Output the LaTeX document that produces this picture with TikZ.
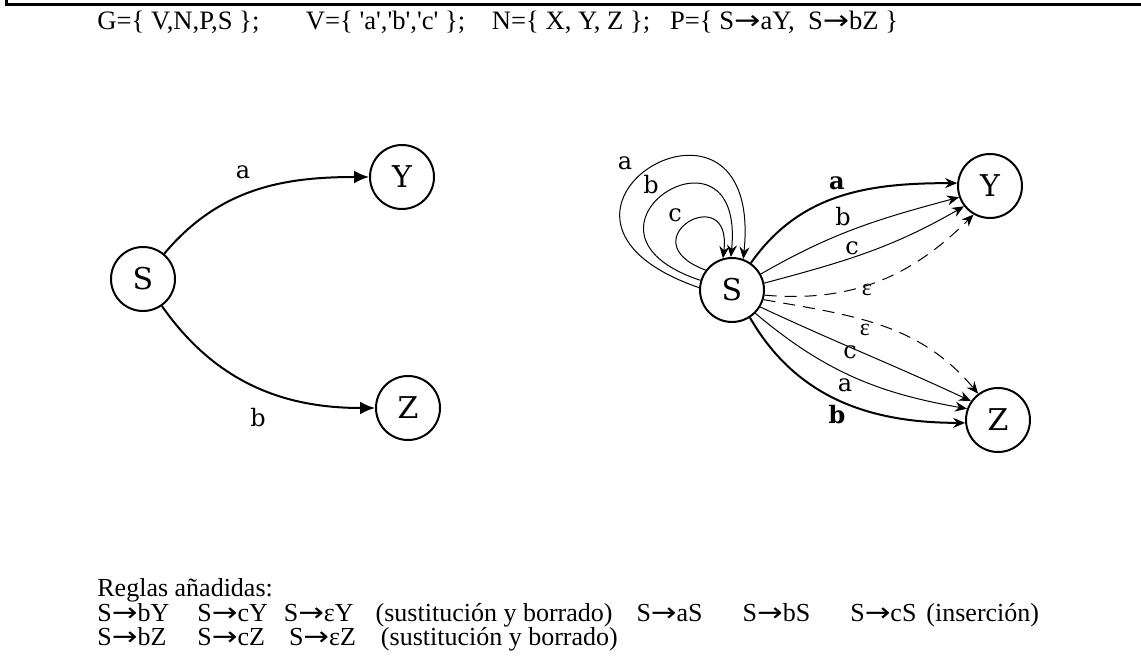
\documentclass[tikz,border=0pt]{standalone}
\usepackage{fontspec}
\setmainfont{Liberation Serif}[Ligatures=TeXOff]
\newfontfamily\grafo{DejaVu Serif}
\newfontfamily\flechas{DejaVu Sans}
\newcommand{\produce}{\scalebox{1.18}[1]{\flechas →}}
\usetikzlibrary{arrows.meta}

\begin{document}
\begin{tikzpicture}[x=0.5pt,y=0.5pt,
    estado/.style={draw,circle,line width=1pt,minimum size=32pt,inner sep=0pt,
      font=\grafo\fontsize{15}{15}\selectfont},
    etiq/.style={inner sep=0pt,font=\grafo\fontsize{12}{12}\selectfont},
    etiqb/.style={inner sep=0pt,font=\grafo\bfseries\fontsize{12}{12}\selectfont},
    etiqe/.style={inner sep=0pt,font=\fontsize{12}{12}\selectfont},
    flecha/.style={line width=1pt,-{Latex[length=7.5pt,width=6.5pt]}},
    fina/.style={line width=0.5pt,-{Stealth[length=6pt,width=5pt,inset=2pt]}},
    gruesa/.style={line width=1pt,-{Stealth[length=6pt,width=5pt,inset=2pt]}},
    vacia/.style={fina,dash pattern=on 6pt off 4pt},
    texto/.style={anchor=base west,inner sep=0pt,font=\fontsize{13}{13}\selectfont}]
        \useasboundingbox (0,0) rectangle (1141,659);

        % Marco
        \draw[line width=1.5pt] (6,659) -- (6,654) -- (1141,654);

        % Gramatica
        \node[texto,font=\fontsize{13.3}{13.3}\selectfont] (gram) at (97,629) {G=\{ V,N,P,S \};\ \ \ \ \ \ \ V=\{ 'a','b','c' \};\ \ \ \ N=\{ X, Y, Z \};\ \ \ P=\{ S\produce aY,\ \ S\produce bZ \}};

        % Automata original
        \node[estado] (S1) at (143,380) {S};
        \node[estado] (Y1) at (402,482) {Y};
        \node[estado] (Z1) at (408,251) {Z};
        \draw[flecha] (S1) to[out=50,in=180] (Y1);
        \draw[flecha] (S1) to[out=-55,in=180] (Z1);
        \node[etiq] (a1) at (243,487) {a};
        \node[etiq] (b1) at (258,241) {b};

        % Automata con reglas añadidas
        \node[estado] (S2) at (732,369) {S};
        \node[estado] (Y2) at (990,473) {Y};
        \node[estado] (Z2) at (998,239) {Z};

        % inserción
        \draw[fina] (S2.143) .. controls +(-80,30) and +(10,80) .. (S2.106);
        \draw[fina] (S2.163) .. controls +(-150,50) and +(15,150) .. (S2.92);
        \draw[fina] (S2.176) .. controls +(-210,73) and +(21,208) .. (S2.70);
        \node[etiq] (la) at (625,496) {a};
        \node[etiq] (lb) at (651,474) {b};
        \node[etiq] (lc) at (675,444) {c};

        % hacia Y
        \draw[gruesa] (S2.55) to[out=55,in=180] (Y2.175);
        \draw[fina] (S2.29) to[out=30,in=195] (Y2.200);
        \draw[fina] (S2.12) to[out=15,in=210] (Y2.218);
        \draw[vacia] (S2.-9) to[out=-5,in=225] (Y2.240);
        \node[etiqb] (ya) at (837,476) {a};
        \node[etiq] (yb) at (843,442) {b};
        \node[etiq] (yc) at (852,411) {c};
        \node[etiqe] (ye) at (867,369) {ε};

        % hacia Z
        \draw[vacia] (S2.-17) to[out=-10,in=130] (Z2.127);
        \draw[fina] (S2.-31) to[out=-25,in=155] (Z2.145);
        \draw[fina] (S2.-45) to[out=-40,in=170] (Z2.160);
        \draw[gruesa] (S2.-57) to[out=-60,in=180] (Z2.185);
        \node[etiqe] (ze) at (865,329) {ε};
        \node[etiq] (zc) at (850,307) {c};
        \node[etiq] (za) at (845,274) {a};
        \node[etiqb] (zb) at (837,244) {b};

        % Reglas
        \node[texto] (r0) at (97,62) {Reglas añadidas:};
        \node[texto] (r1) at (97,38) {S\produce bY\hspace{14pt}S\produce cY\hspace{8pt}S\produce εY\hspace{11pt}(sustitución y borrado)\hspace{12pt}S\produce aS\hspace{20pt}S\produce bS\hspace{20pt}S\produce cS\hspace{5pt}(inserción)};
        \node[texto] (r2) at (97,14) {S\produce bZ\hspace{15.5pt}S\produce cZ\hspace{12pt}S\produce εZ\hspace{12.5pt}(sustitución y borrado)};
\end{tikzpicture}
\end{document}
